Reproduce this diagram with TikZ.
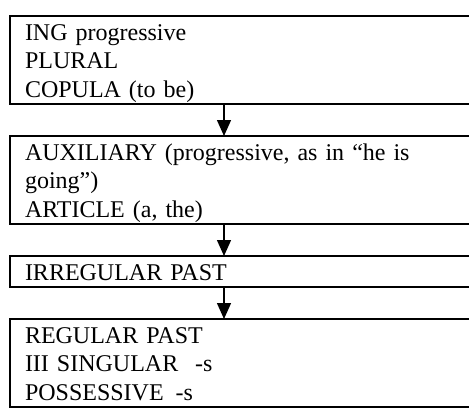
\documentclass[tikz,border=0pt]{standalone}
\usepackage{fontspec}
\setmainfont{Liberation Serif}
\usetikzlibrary{positioning,arrows.meta}
\newcommand{\topline}{\rule{0pt}{24pt}}
\newcommand{\botline}{\rule[-7pt]{0pt}{7pt}}
\tikzset{
  stage/.style={draw, line width=2pt, outer sep=0pt, inner xsep=15.5pt,
    inner ysep=0pt, text width=432pt, align=left,
    font=\fontsize{24}{28.5}\selectfont},
  link/.style={-{Triangle[length=16pt,width=14pt]}, line width=1.4pt}
}
\begin{document}
\begin{tikzpicture}[node distance=32pt]
   \useasboundingbox (0,0) rectangle (469pt,-408pt);
   \node[stage, anchor=north west] (ing) at (9.5pt,-16pt)
      {\topline ING progressive\\PLURAL\\COPULA (to be)\botline};
   \node[stage, below=of ing] (aux)
      {\topline\makebox[\linewidth][s]{AUXILIARY (progressive, as in “he is}\\going”)\\ARTICLE (a, the)\botline};
   \node[stage, below=of aux] (irr) {\topline IRREGULAR PAST\botline};
   \node[stage, below=of irr] (reg)
      {\topline REGULAR PAST\\III SINGULAR\hspace{0.7em}-s\\POSSESSIVE\hspace{0.5em}-s\botline};
   \coordinate (ax) at (224pt,0);
   \draw[link] (ing.south -| ax) -- (aux.north -| ax);
   \draw[link] (aux.south -| ax) -- (irr.north -| ax);
   \draw[link] (irr.south -| ax) -- (reg.north -| ax);
\end{tikzpicture}
\end{document}
